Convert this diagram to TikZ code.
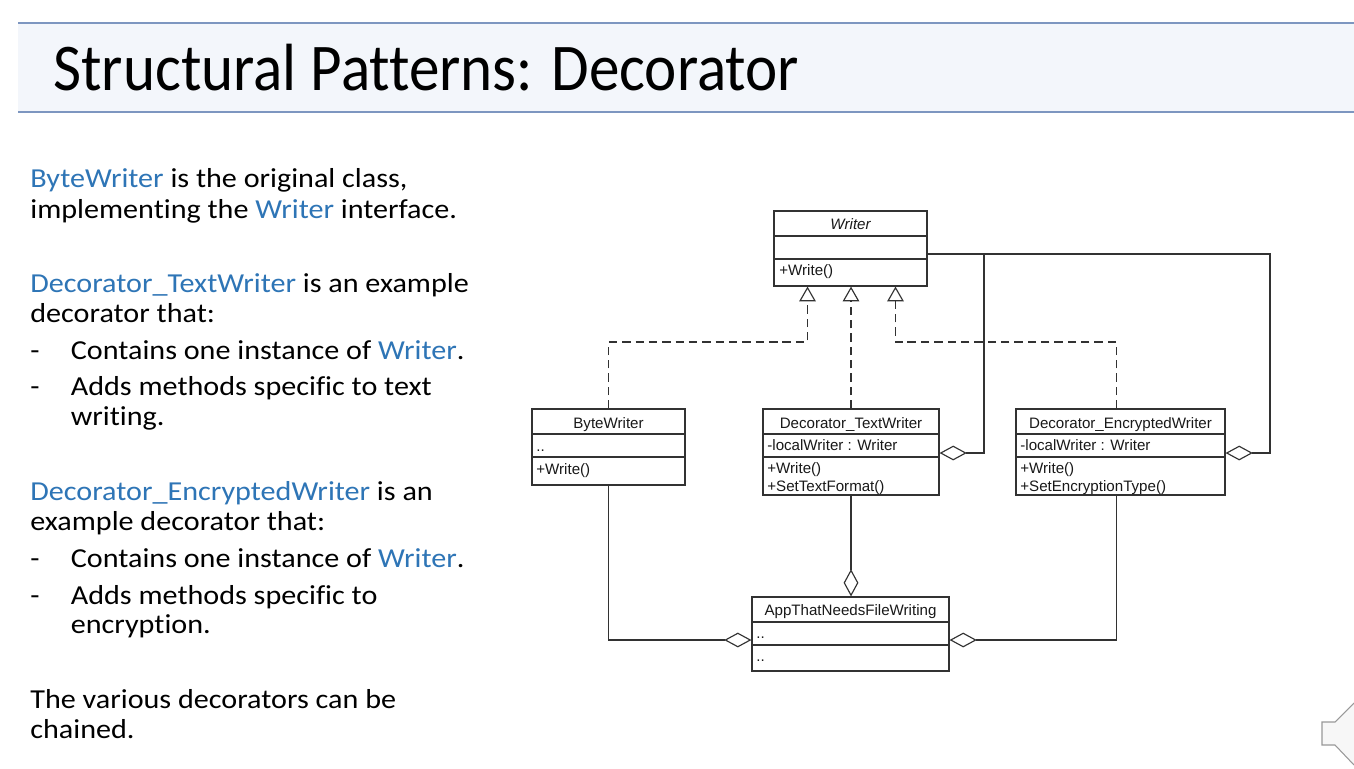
\documentclass[tikz,border=0pt]{standalone}
\usepackage{fontspec}
\setmainfont[FakeStretch=1.1, Ligatures=NoCommon]{Carlito}
\newfontfamily\titlefont[FakeStretch=0.915, Ligatures=NoCommon]{Carlito}
\newfontfamily\umlfont{Liberation Sans}
\usetikzlibrary{arrows.meta,fit}

\definecolor{kwblue}{RGB}{46,117,182}
\definecolor{bandfill}{RGB}{243,246,251}
\definecolor{bandline}{RGB}{125,150,192}
\definecolor{umlline}{RGB}{50,50,50}
\definecolor{umltext}{RGB}{25,25,25}

\newcommand\kw[1]{\textcolor{kwblue}{#1}}

\tikzset{
  body/.style={anchor=base west, inner sep=0pt, font=\fontsize{15.6}{18}\selectfont, text=black},
  umlbox/.style={draw=umlline, line width=0.65pt, inner sep=0pt, fill=white},
  umlsep/.style={draw=umlline, line width=0.65pt},
  umlname/.style={anchor=base, inner sep=0pt, text=umltext, font=\umlfont\fontsize{8.6}{10}\selectfont},
  umlitem/.style={anchor=base west, inner sep=0pt, text=umltext, font=\umlfont\fontsize{8.6}{10}\selectfont},
  realize/.style={draw=umlline, line width=0.65pt, dash pattern=on 4.8pt off 2.8pt,
    -{Triangle[open, length=8.4pt, width=9.4pt, fill=white]}},
  aggr/.style={draw=umlline, line width=0.65pt,
    -{Diamond[open, length=15.5pt, width=8.4pt, fill=white]}},
}

\begin{document}
\begin{tikzpicture}[x=0.02cm, y=-0.02cm]
\useasboundingbox (0,0) rectangle (1354,768);
\fill[white] (0,0) rectangle (1354,768);

% title band
\fill[bandfill] (18,23) rectangle (1354,112);
\draw[bandline, line width=0.8pt] (18,23) -- (1354,23);
\draw[bandline, line width=1.5pt] (18,112) -- (1354,112);
\node[anchor=base west, inner sep=0pt, font=\titlefont\fontsize{38}{40}\selectfont] (title) at (53,90)
  {Structural Patterns: Decorator};

% left-hand explanation
\node[body] (t1) at (30,187) {\kw{ByteWriter} is the original class,};
\node[body] (t2) at (30,218) {implementing the \kw{Writer} interface.};
\node[body] (t3) at (30,292) {\kw{Decorator\_TextWriter} is an example};
\node[body] (t4) at (30,322) {decorator that:};
\node[body] (d1) at (30,359) {-};
\node[body] (t5) at (70.5,359) {Contains one instance of \kw{Writer}.};
\node[body] (d2) at (30,395) {-};
\node[body] (t6) at (70.5,395) {Adds methods specific to text};
\node[body] (t7) at (70.5,425.5) {writing.};
\node[body] (t8) at (30,500.5) {\kw{Decorator\_EncryptedWriter} is an};
\node[body] (t9) at (30,530.5) {example decorator that:};
\node[body] (d3) at (30,567) {-};
\node[body] (t10) at (70.5,567) {Contains one instance of \kw{Writer}.};
\node[body] (d4) at (30,604) {-};
\node[body] (t11) at (70.5,604) {Adds methods specific to};
\node[body] (t12) at (70.5,633) {encryption.};
\node[body] (t13) at (30,708) {The various decorators can be};
\node[body] (t14) at (30,738) {chained.};

% class boxes
\node[umlbox, fit={(774,211) (927,286)}] (writer) {};
\draw[umlsep] (writer.west |- 0,236) -- (writer.east |- 0,236);
\draw[umlsep] (writer.west |- 0,259) -- (writer.east |- 0,259);
\node[umlname, font=\umlfont\itshape\fontsize{8.6}{10}\selectfont] (writerN) at (writer.north |- 0,229.5) {Writer};
\node[umlitem] (writerM) at (779,275.5) {+Write()};

\node[umlbox, fit={(532,409) (685,485)}] (byte) {};
\draw[umlsep] (byte.west |- 0,434) -- (byte.east |- 0,434);
\draw[umlsep] (byte.west |- 0,457) -- (byte.east |- 0,457);
\node[umlname] (byteN) at (byte.north |- 0,428) {ByteWriter};
\node[umlitem] (byteA) at (536,451.5) {..};
\node[umlitem] (byteM) at (536,474) {+Write()};

\node[umlbox, fit={(763,409) (939,495)}] (tw) {};
\draw[umlsep] (tw.west |- 0,434) -- (tw.east |- 0,434);
\draw[umlsep] (tw.west |- 0,457) -- (tw.east |- 0,457);
\node[umlname] (twN) at (tw.north |- 0,428) {Decorator\_TextWriter};
\node[umlitem] (twA) at (767,450.5) {-localWriter : Writer};
\node[umlitem] (twM1) at (767,473.5) {+Write()};
\node[umlitem] (twM2) at (767,491) {+SetTextFormat()};

\node[umlbox, fit={(1016,409) (1225,495)}] (enc) {};
\draw[umlsep] (enc.west |- 0,434) -- (enc.east |- 0,434);
\draw[umlsep] (enc.west |- 0,457) -- (enc.east |- 0,457);
\node[umlname] (encN) at (enc.north |- 0,428) {Decorator\_EncryptedWriter};
\node[umlitem] (encA) at (1020,450.5) {-localWriter : Writer};
\node[umlitem] (encM1) at (1020,473.5) {+Write()};
\node[umlitem] (encM2) at (1020,491) {+SetEncryptionType()};

\node[umlbox, fit={(752,597) (949,671)}] (app) {};
\draw[umlsep] (app.west |- 0,622) -- (app.east |- 0,622);
\draw[umlsep] (app.west |- 0,645) -- (app.east |- 0,645);
\node[umlname] (appN) at (app.north |- 0,615) {AppThatNeedsFileWriting};
\node[umlitem] (appA) at (756,638.5) {..};
\node[umlitem] (appB) at (756,661.5) {..};

% realization (interface implementation)
\draw[realize] (byte.north) -- (byte.north |- 0,342) -| ([xshift=-0.86cm]writer.south);
\draw[realize] (tw.north) -- (tw.north |- writer.south);
\draw[realize] ([xshift=-0.08cm]enc.north) -- ([xshift=-0.08cm]enc.north |- 0,342) -| ([xshift=0.9cm]writer.south);

% aggregation: decorators hold a Writer
\coordinate (wout) at (writer.east |- 0,254);
\coordinate (branch) at (984,254);
\draw[aggr] (wout) -- (1270,254) |- ([yshift=-0.02cm]enc.east);
\draw[aggr] (branch) |- ([yshift=-0.02cm]tw.east);

% aggregation: the application holds its writers
\draw[aggr] (tw.south) -- (tw.south |- app.north);
\draw[aggr] (byte.south) |- ([yshift=-0.12cm]app.west);
\draw[aggr] ([xshift=-0.08cm]enc.south) |- ([yshift=-0.12cm]app.east);

% corner icon
\filldraw[fill=black!3, draw=black!40, line width=0.6pt]
  (1354,703) -- (1335,722) -- (1322,722) -- (1322,745) -- (1335,745) -- (1354,765);
\end{tikzpicture}
\end{document}
